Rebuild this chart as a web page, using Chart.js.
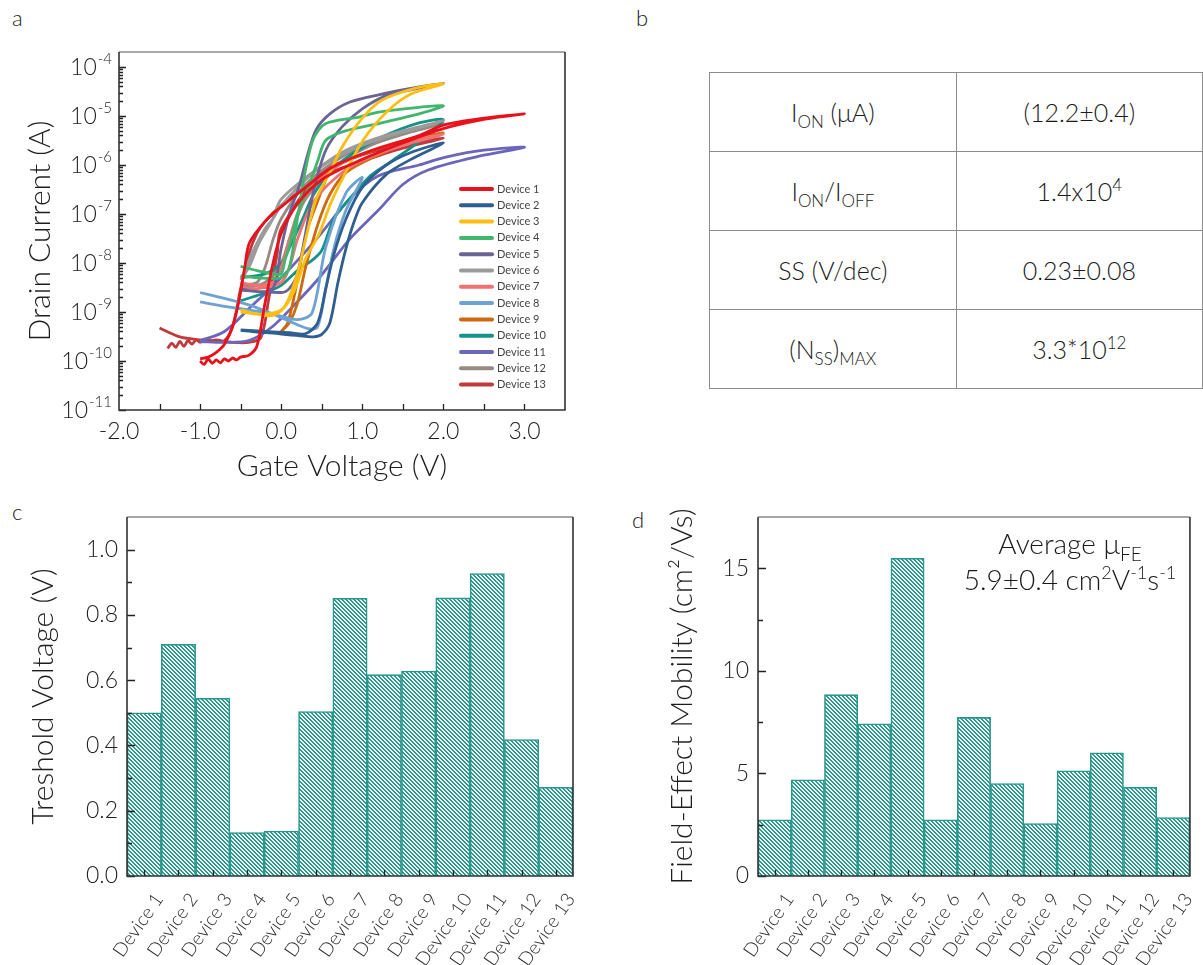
<!DOCTYPE html>
<html>
<head>
<meta charset="utf-8">
<script src="https://cdn.jsdelivr.net/npm/chart.js@4.4.1/dist/chart.umd.min.js"></script>
<style>
  html, body { margin: 0; padding: 0; background: #fff; overflow: hidden; }
  body { width: 1203px; height: 965px; position: relative; font-family: Lato, 'Open Sans', sans-serif; font-weight: 300; color: #1a1a1a; }
  canvas { position: absolute; display: block; }
  .tag { position: absolute; font-size: 22px; line-height: 26px; color: #1a1a1a; font-weight: 300; }
  #stats { position: absolute; left: 709px; top: 72px; border-collapse: collapse; table-layout: fixed; font-size: 25px; }
  #stats td { border: 1px solid #8c8c8c; text-align: center; vertical-align: middle; height: 78px; padding: 0; color: #1a1a1a; }
  #stats td.k { width: 250px; }
  #stats td.v { width: 249px; }
  .sb { font-size: 17px; position: relative; top: 6px; }
  .sp { font-size: 17px; position: relative; top: -10px; }
  #avg { position: absolute; left: 920px; width: 300px; top: 527px; text-align: center; font-size: 28px; line-height: 33px; color: #1a1a1a; }
  #avg .sb { font-size: 19px; top: 7px; }
  #avg .sp { font-size: 18px; top: -11px; }
</style>
</head>
<body>
<div class="tag" style="left:12px;top:5px">a</div>
<div class="tag" style="left:636px;top:5px">b</div>
<div class="tag" style="left:12px;top:499px">c</div>
<div class="tag" style="left:632px;top:507px">d</div>

<canvas id="transfer" width="600" height="490" style="left:0;top:0"></canvas>
<canvas id="threshold" width="600" height="475" style="left:0;top:490px"></canvas>
<canvas id="mobilityChart" width="605" height="475" style="left:600px;top:490px"></canvas>

<table id="stats">
  <tr><td class="k">I<span class="sb">ON</span> (μA)</td><td class="v">(12.2±0.4)</td></tr>
  <tr><td class="k">I<span class="sb">ON</span>/I<span class="sb">OFF</span></td><td class="v">1.4x10<span class="sp">4</span></td></tr>
  <tr><td class="k">SS (V/dec)</td><td class="v">0.23±0.08</td></tr>
  <tr><td class="k">(N<span class="sb">SS</span>)<span class="sb">MAX</span></td><td class="v">3.3*10<span class="sp">12</span></td></tr>
</table>

<div id="avg">Average μ<span class="sb">FE</span><br>5.9±0.4 cm<span class="sp">2</span>V<span class="sp">-1</span>s<span class="sp">-1</span></div>

<script>
// ---- device names ----
const deviceNames = ['Device 1','Device 2','Device 3','Device 4','Device 5','Device 6','Device 7',
                     'Device 8','Device 9','Device 10','Device 11','Device 12','Device 13'];
const deviceColors = ['#e8121c','#2f5f90','#fbbf14','#41b66c','#6a6496','#9b9b9b','#f07272',
                      '#6ea2d2','#cc6a12','#13938a','#6b66ba','#968a82','#c03a3c'];

// ---- transfer curves: gate voltage (V) and drain current (A), forward then reverse sweep ----
const dev1V = [-1.0,-0.95,-0.9,-0.85,-0.8,-0.75,-0.7,-0.65,-0.6,-0.55,-0.5,-0.4,-0.3,-0.2,-0.1,0.0,0.2,0.5,1.0,1.5,2.0,2.5,3.0,
               2.5,2.0,1.7,1.05,0.63,0.3,0.0,-0.18,-0.39,-0.45,-0.52,-0.6,-0.7,-0.8,-0.9,-1.0];
const dev1I = [1.0e-10,0.85e-10,1.1e-10,0.9e-10,1.05e-10,0.92e-10,1.1e-10,1.0e-10,1.15e-10,1.05e-10,1.2e-10,1.3e-10,2.0e-10,1.5e-9,1.0e-8,4.0e-8,1.6e-7,5.0e-7,1.3e-6,2.8e-6,5.5e-6,8.5e-6,1.1e-5,
               9.0e-6,6.5e-6,4.0e-6,1.8e-6,9.0e-7,3.5e-7,1.4e-7,7.6e-8,2.6e-8,8.0e-9,1.7e-9,5.0e-10,2.2e-10,1.5e-10,1.2e-10,1.1e-10];
const dev2V = [-0.5,-0.3,-0.1,0.1,0.3,0.4,0.5,0.6,0.7,0.8,0.9,1.0,1.3,1.6,2.0,
               1.6,1.3,1.0,0.8,0.65,0.55,0.45,0.3,0.1,-0.2,-0.5];
const dev2I = [4.2e-10,3.9e-10,3.7e-10,3.4e-10,3.2e-10,3.1e-10,3.5e-10,6e-10,4e-9,2e-8,7e-8,1.7e-7,6.5e-7,1.3e-6,2.8e-6,
               1.8e-6,1e-6,3.5e-7,8e-8,1.5e-8,3e-9,6e-10,3.6e-10,3.8e-10,4e-10,4.3e-10];
const dev3V = [-0.5,-0.3,-0.1,0.05,0.18,0.3,0.47,0.6,0.75,1.0,1.3,1.6,2.0,
               1.66,1.24,1.0,0.75,0.6,0.43,0.3,0.22,0.1,0.0,-0.25,-0.5];
const dev3I = [1.0e-9,9e-10,8.5e-10,1.3e-9,3.2e-9,1.2e-8,4e-8,1.5e-7,5e-7,3e-6,1.2e-5,2.8e-5,4.5e-5,
               3.7e-5,2.1e-5,9e-6,2.3e-6,7e-7,2e-7,3e-8,8e-9,2e-9,1.1e-9,9e-10,1.1e-9];
const dev4V = [-0.5,-0.3,-0.1,0.0,0.05,0.1,0.2,0.31,0.45,0.55,0.8,1.2,1.6,2.0,
               1.7,1.2,0.96,0.55,0.4,0.3,0.2,0.1,0.0,-0.3,-0.5];
const dev4I = [8.5e-9,7e-9,6e-9,6e-9,1.2e-8,2.2e-8,1e-7,2.7e-7,1.2e-6,3.2e-6,5e-6,7e-6,1e-5,1.6e-5,
               1.5e-5,1.2e-5,9.5e-6,7e-6,3.5e-6,8e-7,8e-8,8e-9,5e-9,5e-9,5.5e-9];
const dev5V = [-0.5,-0.3,-0.1,0.0,0.1,0.22,0.32,0.43,0.6,0.84,1.2,1.7,2.0,
               1.7,1.3,1.0,0.75,0.55,0.4,0.3,0.2,0.1,0.0,-0.5];
const dev5I = [3e-9,2.6e-9,3e-9,2e-8,1e-7,3.6e-7,1.5e-6,5.2e-6,1.1e-5,1.9e-5,2.7e-5,3.9e-5,4.6e-5,
               3.7e-5,2.6e-5,1.4e-5,6e-6,2e-6,3e-7,4e-8,6e-9,3e-9,2.5e-9,2.8e-9];
const dev6V = [-0.5,-0.45,-0.4,-0.3,-0.2,-0.1,0.0,0.4,0.8,1.24,1.7,2.0,
               1.7,1.24,0.8,0.43,0.0,-0.11,-0.27,-0.4,-0.5];
const dev6I = [5e-9,6e-9,1.1e-8,2.5e-8,5e-8,8e-8,1.5e-7,7e-7,1.8e-6,3.5e-6,5.7e-6,8e-6,
               6e-6,3.8e-6,2e-6,8e-7,2e-7,7.6e-8,2.6e-8,8e-9,4.5e-9];
const dev7V = [-0.5,-0.3,-0.1,0.0,0.1,0.2,0.4,0.8,1.2,1.6,2.0,
               1.6,1.2,0.8,0.4,0.2,0.1,0.0,-0.3,-0.5];
const dev7I = [4e-9,3.5e-9,4e-9,8e-9,3e-8,1e-7,4e-7,1.2e-6,2.2e-6,3.2e-6,4.2e-6,
               2.8e-6,1.7e-6,8e-7,1.8e-7,3e-8,8e-9,4e-9,3e-9,3.2e-9];
const dev8V = [-1.0,-0.7,-0.4,-0.1,0.2,0.35,0.45,0.55,0.65,0.8,1.0,
               0.8,0.55,0.38,0.2,-0.1,-0.4,-0.7,-1.0];
const dev8I = [2.5e-9,1.9e-9,1.4e-9,9e-10,5.5e-10,4.5e-10,5e-10,3e-9,2e-8,1.2e-7,5.5e-7,
               2.7e-7,2.1e-8,9.5e-10,7e-10,9e-10,1.1e-9,1.3e-9,1.6e-9];
const dev9V = [0.0,0.1,0.2,0.3,0.45,0.6,0.8,1.2,1.6,2.0,
               1.6,1.2,0.8,0.63,0.43,0.31,0.18,0.08,0.0];
const dev9I = [4e-10,6e-10,1.5e-9,8e-9,6e-8,2.5e-7,7e-7,1.6e-6,3e-6,4.5e-6,
               3.4e-6,2.2e-6,1.2e-6,9e-7,1.5e-7,4e-8,3e-9,6e-10,4e-10];
const dev10V = [-0.5,-0.25,0.0,0.2,0.4,0.5,0.65,0.84,1.1,1.33,1.7,2.0,
                1.7,1.24,0.9,0.63,0.4,0.26,0.1,0.0,-0.2,-0.5];
const dev10I = [1.7e-9,2.3e-9,3.5e-9,7e-9,1.2e-8,1.8e-8,8e-8,2e-7,6e-7,1.1e-6,3e-6,8.3e-6,
                7.2e-6,3.7e-6,1.8e-6,8e-7,2.5e-7,7.6e-8,2e-8,1e-8,6e-9,5e-9];
const dev11V = [-1.0,-0.7,-0.4,-0.11,0.18,0.47,0.84,1.2,1.5,1.82,2.43,3.0,
                2.5,2.03,1.7,1.2,0.84,0.43,0.0,-0.39,-0.7,-1.0];
const dev11I = [2.5e-10,2.4e-10,2.6e-10,5e-10,1.5e-9,5e-9,3e-8,1.2e-7,4e-7,8e-7,1.5e-6,2.3e-6,
                2e-6,1.45e-6,1e-6,6e-7,2e-7,3e-8,5e-9,1.2e-9,4e-10,2.6e-10];
const dev12V = [-0.5,-0.3,-0.2,-0.1,0.0,0.3,0.7,1.1,1.5,2.0,
                1.5,1.1,0.7,0.3,0.1,0.0,-0.2,-0.5];
const dev12I = [3.5e-9,4e-9,8e-9,3e-8,8e-8,4e-7,1.3e-6,2.8e-6,4.5e-6,7e-6,
                4.2e-6,2.5e-6,1e-6,2e-7,3e-8,1e-8,4e-9,3e-9];
const dev13V = [-1.4,-1.35,-1.3,-1.25,-1.2,-1.15,-1.1,-1.05,-1.0,-0.95,-0.9,-0.8,-0.7,-0.6,-0.5,-0.4,-0.3,-0.2,0.0,0.3,0.6,1.0,1.5,2.0,
                1.5,1.0,0.5,0.0,-0.05,-0.15,-0.25,-0.4,-0.6,-0.8,-1.0,-1.25,-1.5];
const dev13I = [1.8e-10,2.3e-10,1.9e-10,2.5e-10,2.0e-10,2.6e-10,2.2e-10,2.7e-10,2.4e-10,2.8e-10,2.5e-10,2.7e-10,2.6e-10,5e-10,3e-9,1.5e-8,4e-8,7e-8,1.5e-7,3.5e-7,7e-7,1.2e-6,2.2e-6,3.5e-6,
                2.6e-6,1.6e-6,7e-7,5e-8,1.5e-8,2e-9,3e-10,2.4e-10,2.4e-10,2.6e-10,2.7e-10,3.1e-10,4.7e-10];

// ---- axis ticks for the transfer plot ----
const gateTickValues = [-2, -1, 0, 1, 2, 3];
const gateTickLabels = ['-2.0', '-1.0', '0.0', '1.0', '2.0', '3.0'];
const currentTickValues = [1e-11, 1e-10, 1e-9, 1e-8, 1e-7, 1e-6, 1e-5, 1e-4];
const currentTickExponents = ['-11', '-10', '-9', '-8', '-7', '-6', '-5', '-4'];

// ---- per-device extracted parameters ----
const thresholdVoltage = [0.50, 0.71, 0.545, 0.133, 0.138, 0.504, 0.851, 0.617, 0.628, 0.852, 0.927, 0.418, 0.272];
const thresholdTickValues = [0, 0.2, 0.4, 0.6, 0.8, 1.0];
const thresholdTickLabels = ['0.0', '0.2', '0.4', '0.6', '0.8', '1.0'];
const mobility = [2.74, 4.69, 8.84, 7.42, 15.49, 2.74, 7.73, 4.51, 2.56, 5.13, 6.01, 4.33, 2.85];
const mobilityTickValues = [0, 5, 10, 15];
const mobilityTickLabels = ['0', '5', '10', '15'];

const sweepV = [dev1V, dev2V, dev3V, dev4V, dev5V, dev6V, dev7V, dev8V, dev9V, dev10V, dev11V, dev12V, dev13V];
const sweepI = [dev1I, dev2I, dev3I, dev4I, dev5I, dev6I, dev7I, dev8I, dev9I, dev10I, dev11I, dev12I, dev13I];

const FONT = "Lato, 'Open Sans', sans-serif";
Chart.defaults.font.family = FONT;
Chart.defaults.font.weight = '300';
Chart.defaults.color = '#1e1e1e';
Chart.defaults.animation = false;

// Frame around the plot area plus inward-pointing tick marks
const framePlugin = {
  id: 'frame',
  afterDraw(chart, args, o) {
    const { ctx, chartArea: a } = chart;
    const xs = chart.scales.x, ys = chart.scales.y;
    ctx.save();
    ctx.strokeStyle = '#222';
    ctx.lineWidth = 1.3;
    ctx.beginPath();
    (o.xTicks || []).forEach(v => {
      const p = Math.round(xs.getPixelForValue(v)) + 0.5;
      ctx.moveTo(p, a.bottom); ctx.lineTo(p, a.bottom - o.xLen);
    });
    (o.yMajor || []).forEach(v => {
      const p = Math.round(ys.getPixelForValue(v)) + 0.5;
      ctx.moveTo(a.left, p); ctx.lineTo(a.left + o.yLen, p);
    });
    (o.yMinor || []).forEach(v => {
      const p = Math.round(ys.getPixelForValue(v)) + 0.5;
      ctx.moveTo(a.left, p); ctx.lineTo(a.left + o.yMinorLen, p);
    });
    ctx.stroke();
    ctx.lineWidth = 1.6;
    ctx.strokeStyle = '#8a8a8a';
    ctx.beginPath(); ctx.moveTo(a.left, a.top); ctx.lineTo(a.right, a.top); ctx.stroke();
    ctx.strokeStyle = '#333';
    ctx.beginPath();
    ctx.moveTo(a.right, a.top); ctx.lineTo(a.right, a.bottom);
    ctx.lineTo(a.left, a.bottom); ctx.lineTo(a.left, a.top);
    ctx.stroke();
    ctx.restore();
  }
};

// Powers-of-ten labels with raised exponents
const decadeLabels = {
  id: 'decadeLabels',
  afterDraw(chart, args, o) {
    if (!o.values) return;
    const { ctx, chartArea: a } = chart;
    const ys = chart.scales.y;
    ctx.save();
    ctx.fillStyle = '#1e1e1e';
    ctx.textBaseline = 'middle';
    ctx.textAlign = 'right';
    o.values.forEach((v, i) => {
      const y = ys.getPixelForValue(v);
      const xr = a.left - o.gap;
      ctx.font = `300 ${o.expSize}px ${FONT}`;
      const ew = ctx.measureText(o.exponents[i]).width;
      ctx.fillText(o.exponents[i], xr, y - o.raise);
      ctx.font = `300 ${o.size}px ${FONT}`;
      ctx.fillText('10', xr - ew - 1, y + 1);
    });
    ctx.restore();
  }
};

// Series key drawn inside the plot area
const insideKey = {
  id: 'insideKey',
  afterDraw(chart, args, o) {
    if (!o.show) return;
    const { ctx, chartArea: a } = chart;
    ctx.save();
    ctx.font = `400 11px ${FONT}`;
    ctx.textBaseline = 'middle';
    ctx.textAlign = 'left';
    chart.data.datasets.forEach((ds, i) => {
      const y = a.top + o.top + i * o.step;
      const x0 = a.right - o.fromRight;
      ctx.strokeStyle = ds.borderColor;
      ctx.lineWidth = 4;
      ctx.lineCap = 'round';
      ctx.beginPath(); ctx.moveTo(x0, y); ctx.lineTo(x0 + 31, y); ctx.stroke();
      ctx.fillStyle = '#444';
      ctx.fillText(ds.label, x0 + 36, y);
    });
    ctx.restore();
  }
};

Chart.register(framePlugin, decadeLabels, insideKey);

// ---------- a: transfer characteristics ----------
const gateMarks = [];
for (let v = -1.5; v <= 3.01; v += 0.5) gateMarks.push(Math.round(v * 10) / 10);
const decadeMinor = [];
for (let e = -11; e <= -5; e++) for (let m = 2; m <= 9; m++) decadeMinor.push(m * Math.pow(10, e));

new Chart(document.getElementById('transfer'), {
  type: 'scatter',
  data: {
    datasets: deviceNames.map((name, i) => ({
      label: name,
      data: sweepV[i].map((v, k) => ({ x: v, y: sweepI[i][k] })),
      showLine: true,
      borderColor: deviceColors[i],
      backgroundColor: deviceColors[i],
      borderWidth: 2.8,
      pointRadius: 0,
      tension: 0.3
    }))
  },
  options: {
    responsive: false,
    layout: { padding: { left: 0, top: 52, right: 35, bottom: 0 } },
    plugins: {
      legend: { display: false },
      tooltip: { enabled: false },
      frame: { xTicks: gateMarks, xLen: 6, yMajor: currentTickValues, yLen: 7, yMinor: decadeMinor, yMinorLen: 4 },
      decadeLabels: { values: currentTickValues, exponents: currentTickExponents, gap: 7, size: 23, expSize: 15, raise: 8 },
      insideKey: { show: true, fromRight: 104, top: 137, step: 16.3 }
    },
    scales: {
      x: {
        type: 'linear', min: -2, max: 3.5,
        grid: { display: false, drawTicks: false },
        border: { display: false },
        afterBuildTicks: s => { s.ticks = gateTickValues.map(v => ({ value: v })); },
        afterFit: s => { s.height = 80; },
        ticks: { padding: 8, font: { size: 23 }, callback: (v, i) => gateTickLabels[i] },
        title: { display: true, text: 'Gate Voltage (V)', font: { size: 30 }, color: '#1e1e1e', padding: { top: 0, bottom: 6 } }
      },
      y: {
        type: 'logarithmic', min: 1e-11, max: 2.02e-4,
        grid: { display: false, drawTicks: false },
        border: { display: false },
        ticks: { display: false },
        afterFit: s => { s.width = 119; },
        title: { display: true, text: 'Drain Current (A)', font: { size: 30 }, color: '#1e1e1e', padding: { top: 22, bottom: 0 } }
      }
    }
  }
});

// ---------- hatch fill for the bars ----------
function makeHatch() {
  const tile = document.createElement('canvas');
  tile.width = 4; tile.height = 4;
  const g = tile.getContext('2d');
  const img = g.createImageData(4, 4);
  for (let j = 0; j < 4; j++) {
    for (let i = 0; i < 4; i++) {
      const on = (((i - j) % 4) + 4) % 4 < 2;
      const c = on ? [48, 152, 143] : [236, 247, 245];
      const k = (j * 4 + i) * 4;
      img.data[k] = c[0]; img.data[k + 1] = c[1]; img.data[k + 2] = c[2]; img.data[k + 3] = 255;
    }
  }
  g.putImageData(img, 0, 0);
  return document.createElement('canvas').getContext('2d').createPattern(tile, 'repeat');
}
const hatch = makeHatch();

function barChart(id, values, yMax, tickVals, tickLabels, minor, title, leftWidth, rightPad, titlePad) {
  return new Chart(document.getElementById(id), {
    type: 'bar',
    data: {
      labels: deviceNames,
      datasets: [{
        data: values,
        backgroundColor: hatch,
        borderColor: '#2b968c',
        borderWidth: 1.6,
        borderSkipped: 'bottom',
        barPercentage: 1,
        categoryPercentage: 1
      }]
    },
    options: {
      responsive: false,
      layout: { padding: { left: 0, top: 27, right: rightPad, bottom: 0 } },
      plugins: {
        legend: { display: false },
        tooltip: { enabled: false },
        frame: { xTicks: deviceNames.map((_, i) => i), xLen: 6, yMajor: tickVals, yLen: 8, yMinor: minor, yMinorLen: 5 }
      },
      scales: {
        x: {
          type: 'category',
          grid: { display: false, drawTicks: false },
          border: { display: false },
          afterFit: s => { s.height = 89; },
          ticks: { autoSkip: false, minRotation: 55, maxRotation: 55, padding: 13, labelOffset: 15, font: { size: 19 }, color: '#2a2a2a' }
        },
        y: {
          type: 'linear', min: 0, max: yMax,
          grid: { display: false, drawTicks: false },
          border: { display: false },
          afterBuildTicks: s => { s.ticks = tickVals.map(v => ({ value: v })); },
          afterFit: s => { s.width = leftWidth; },
          ticks: { padding: 9, font: { size: 23 }, callback: (v, i) => tickLabels[i] },
          title: { display: true, text: title, font: { size: 30 }, color: '#1e1e1e', padding: { top: titlePad, bottom: 0 } }
        }
      }
    }
  });
}

// ---------- c: threshold voltage ----------
barChart('threshold', thresholdVoltage, 1.1, thresholdTickValues, thresholdTickLabels,
  [0.1, 0.3, 0.5, 0.7, 0.9], 'Treshold Voltage (V)', 127, 27, 25);

// ---------- d: field-effect mobility ----------
barChart('mobilityChart', mobility, 17.5, mobilityTickValues, mobilityTickLabels,
  [2.5, 7.5, 12.5], 'Field-Effect Mobility (cm²/Vs)', 158, 0, 64);
</script>
</body>
</html>
